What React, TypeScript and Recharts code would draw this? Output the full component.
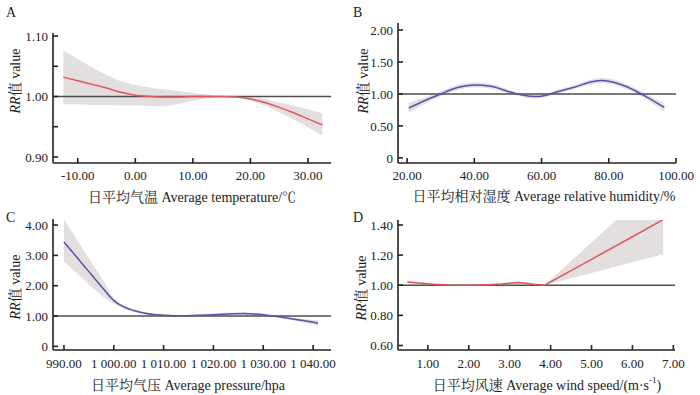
import React from "react";
import { ComposedChart, Area, Line, XAxis, YAxis, ReferenceLine, Label } from "recharts";

// A: temperature
const tempX = [-12.5, -10, -7.5, -5, -2.5, 0, 2.5, 5, 7.5, 10, 12.5, 15, 17.5, 20, 22.5, 25, 27.5, 30, 32.5];
const tempRR = [1.032, 1.026, 1.02, 1.014, 1.007, 1.002, 1.0, 0.999, 0.999, 1.0, 1.0, 1.0, 0.999, 0.996, 0.99, 0.982, 0.973, 0.963, 0.953];
const tempHigh = [1.076, 1.062, 1.048, 1.036, 1.025, 1.019, 1.015, 1.012, 1.009, 1.006, 1.003, 1.0, 1.0, 0.999, 0.996, 0.99, 0.985, 0.979, 0.972];
const tempLow = [0.987, 0.987, 0.986, 0.986, 0.985, 0.985, 0.984, 0.984, 0.988, 0.993, 0.997, 1.0, 0.998, 0.993, 0.985, 0.974, 0.962, 0.949, 0.935];

// B: relative humidity
const humX = [20.5, 25, 30, 35, 40, 45, 50, 55, 58, 60, 65, 70, 75, 78, 80, 85, 90, 96.5];
const humRR = [0.78, 0.89, 1.0, 1.1, 1.14, 1.12, 1.04, 0.975, 0.96, 0.965, 1.04, 1.11, 1.19, 1.21, 1.2, 1.12, 0.99, 0.79];
const humHigh = [0.86, 0.94, 1.04, 1.14, 1.18, 1.16, 1.07, 1.0, 0.985, 0.99, 1.07, 1.14, 1.23, 1.25, 1.24, 1.16, 1.03, 0.85];
const humLow = [0.7, 0.84, 0.96, 1.06, 1.1, 1.08, 1.01, 0.95, 0.935, 0.94, 1.01, 1.08, 1.15, 1.17, 1.16, 1.08, 0.95, 0.73];

// C: pressure
const presX = [990, 992, 994, 996, 998, 1000, 1002, 1004, 1006, 1008, 1010, 1014, 1018, 1022, 1026, 1030, 1032, 1035, 1038, 1041];
const presRR = [3.44, 3.05, 2.66, 2.27, 1.88, 1.51, 1.3, 1.18, 1.1, 1.05, 1.03, 1.01, 1.03, 1.06, 1.08, 1.04, 1.0, 0.93, 0.85, 0.76];
const presHigh = [4.18, 3.67, 3.16, 2.65, 2.14, 1.6, 1.36, 1.22, 1.13, 1.07, 1.05, 1.03, 1.06, 1.1, 1.12, 1.08, 1.03, 0.97, 0.91, 0.85];
const presLow = [2.8, 2.5, 2.2, 1.9, 1.62, 1.42, 1.24, 1.14, 1.07, 1.03, 1.01, 0.99, 1.0, 1.02, 1.03, 1.0, 0.97, 0.89, 0.79, 0.67];

// D: wind speed (straight segment after ~3.85)
const windX = [0.5, 0.75, 1.0, 1.25, 1.5, 2.0, 2.5, 2.8, 3.0, 3.2, 3.4, 3.6, 3.85, 4.5, 5.0, 5.6, 6.0, 6.75];
const windRR = [1.022, 1.015, 1.009, 1.004, 1.001, 1.0, 1.003, 1.008, 1.013, 1.018, 1.013, 1.006, 1.0, 1.097, 1.172, 1.262, 1.322, 1.435];
const windHigh = [1.03, 1.022, 1.015, 1.01, 1.006, 1.005, 1.008, 1.014, 1.02, 1.025, 1.019, 1.01, 1.0, 1.16, 1.284, 1.433, 1.53, 1.72];
const windLow = [1.014, 1.008, 1.003, 0.998, 0.996, 0.995, 0.998, 1.002, 1.006, 1.011, 1.007, 1.002, 1.0, 1.046, 1.081, 1.124, 1.152, 1.205];

const font = "'Liberation Serif', 'Times New Roman', 'Noto Serif CJK SC', 'Noto Sans CJK SC', serif";
const ink = "#222";
const RED = "#e0575c";
const BLUE = "#5a50b0";
const BAND = "#e4dfdf";

const rows = (xs: number[], rr: number[], lo: number[], hi: number[]) =>
  xs.map((x, i) => ({ x, rr: rr[i], band: [lo[i], hi[i]] }));

const fix2 = (v: number) => (v === 0 ? "0" : v.toFixed(2));
const pressFmt = (v: number) =>
  v >= 1000 ? "1 " + (v - 1000).toFixed(2).padStart(6, "0") : v.toFixed(2);

type PanelProps = {
  letter: string;
  left: number;
  top: number;
  height: number;
  margin: { top: number; right: number; bottom: number; left: number };
  data: { x: number; rr: number; band: number[] }[];
  xDomain: [number, number];
  xTicks: number[];
  xFmt: (v: number) => string;
  yDomain: [number, number];
  yTicks: number[];
  yFmt: (v: number) => string;
  color: string;
  curve: "monotone" | "linear";
  title: React.ReactNode;
  titleX: number;
  titleY: number;
  yLab: [number, number];
  tickGap: number;
};

function Panel(p: PanelProps) {
  const axisStyle = { stroke: ink, strokeWidth: 1.6 };
  return (
    <div style={{ position: "absolute", left: p.left, top: p.top, width: 350, height: p.height }}>
      <div style={{ position: "absolute", left: p.left === 0 ? 6 : 3, top: 5, fontFamily: font, fontSize: 14, color: ink }}>
        {p.letter}
      </div>
      <ComposedChart width={350} height={p.height} data={p.data} margin={p.margin}>
        <XAxis
          dataKey="x"
          type="number"
          domain={p.xDomain}
          ticks={p.xTicks}
          allowDataOverflow
          interval={0}
          tickFormatter={p.xFmt}
          tickSize={-5}
          tickMargin={p.tickGap}
          height={30}
          axisLine={axisStyle}
          tickLine={axisStyle}
          tick={{ fill: ink, fontSize: 13, fontFamily: font }}
        >
          <Label
            content={() => (
              <text x={p.titleX} y={p.titleY} textAnchor="middle" dominantBaseline="central" fontFamily={font} fontSize={14} fill={ink}>
                {p.title}
              </text>
            )}
          />
        </XAxis>
        <YAxis
          type="number"
          domain={p.yDomain}
          ticks={p.yTicks}
          allowDataOverflow
          interval={0}
          tickFormatter={p.yFmt}
          tickSize={-5}
          tickMargin={10}
          width={40}
          axisLine={axisStyle}
          tickLine={axisStyle}
          tick={{ fill: ink, fontSize: 13, fontFamily: font }}
        >
          <Label
            content={() => (
              <text
                x={p.yLab[0]}
                y={p.yLab[1]}
                transform={`rotate(-90 ${p.yLab[0]} ${p.yLab[1]})`}
                textAnchor="middle"
                dominantBaseline="central"
                fontFamily={font}
                fontSize={14}
                fill={ink}
              >
                <tspan fontStyle="italic">RR</tspan>值 value
              </text>
            )}
          />
        </YAxis>
        <Area dataKey="band" type={p.curve} fill={BAND} fillOpacity={1} stroke="none" isAnimationActive={false} />
        <ReferenceLine y={1} stroke="#4d4d4d" strokeWidth={1.4} />
        <Line dataKey="rr" type={p.curve} stroke={p.color} strokeWidth={1.5} dot={false} isAnimationActive={false} />
      </ComposedChart>
    </div>
  );
}

export default function App() {
  return (
    <div style={{ position: "absolute", left: 0, top: 0, width: 700, height: 395, background: "#fff" }}>
      <Panel
        letter="A"
        left={0}
        top={0}
        height={205}
        margin={{ top: 33, right: 19, bottom: 12, left: 13 }}
        data={rows(tempX, tempRR, tempLow, tempHigh)}
        xDomain={[-14.3, 34]}
        xTicks={[-10, 0, 10, 20, 30]}
        xFmt={(v) => v.toFixed(2)}
        yDomain={[0.89, 1.105]}
        yTicks={[0.9, 0.95, 1.0, 1.05, 1.1]}
        yFmt={(v) => (Math.abs(v * 100 - Math.round(v * 10) * 10) < 1e-6 ? v.toFixed(2) : "")}
        color={RED}
        curve="monotone"
        title="日平均气温 Average temperature/℃"
        titleX={192}
        titleY={197}
        yLab={[15, 81]}
        tickGap={12.5}
      />
      <Panel
        letter="B"
        left={350}
        top={0}
        height={205}
        margin={{ top: 23, right: 24, bottom: 12, left: 8 }}
        data={rows(humX, humRR, humLow, humHigh)}
        xDomain={[17.3, 100]}
        xTicks={[20, 40, 60, 80, 100]}
        xFmt={(v) => v.toFixed(2)}
        yDomain={[-0.08, 2.11]}
        yTicks={[0, 0.5, 1.0, 1.5, 2.0]}
        yFmt={fix2}
        color={BLUE}
        curve="monotone"
        title="日平均相对湿度 Average relative humidity/%"
        titleX={194}
        titleY={196}
        yLab={[13, 81]}
        tickGap={12.5}
      />
      <Panel
        letter="C"
        left={0}
        top={205}
        height={190}
        margin={{ top: 14, right: 19, bottom: 15, left: 13 }}
        data={rows(presX, presRR, presLow, presHigh)}
        xDomain={[987.8, 1043.6]}
        xTicks={[990, 1000, 1010, 1020, 1030, 1040]}
        xFmt={pressFmt}
        yDomain={[-0.12, 4.2]}
        yTicks={[0, 1, 2, 3, 4]}
        yFmt={fix2}
        color={BLUE}
        curve="monotone"
        title="日平均气压 Average pressure/hpa"
        titleX={188}
        titleY={180}
        yLab={[15, 82]}
        tickGap={14}
      />
      <Panel
        letter="D"
        left={350}
        top={205}
        height={190}
        margin={{ top: 15, right: 25, bottom: 15, left: 8 }}
        data={rows(windX, windRR, windLow, windHigh)}
        xDomain={[0.27, 7.04]}
        xTicks={[1, 2, 3, 4, 5, 6, 7]}
        xFmt={(v) => v.toFixed(2)}
        yDomain={[0.57, 1.433]}
        yTicks={[0.6, 0.8, 1.0, 1.2, 1.4]}
        yFmt={fix2}
        color={RED}
        curve="linear"
        title={
          <>
            日平均风速 Average wind speed/(m·s
            <tspan dy={-5} fontSize={9}>-1</tspan>
            <tspan dy={5}>)</tspan>
          </>
        }
        titleX={197}
        titleY={180}
        yLab={[11, 83]}
        tickGap={14}
      />
    </div>
  );
}
